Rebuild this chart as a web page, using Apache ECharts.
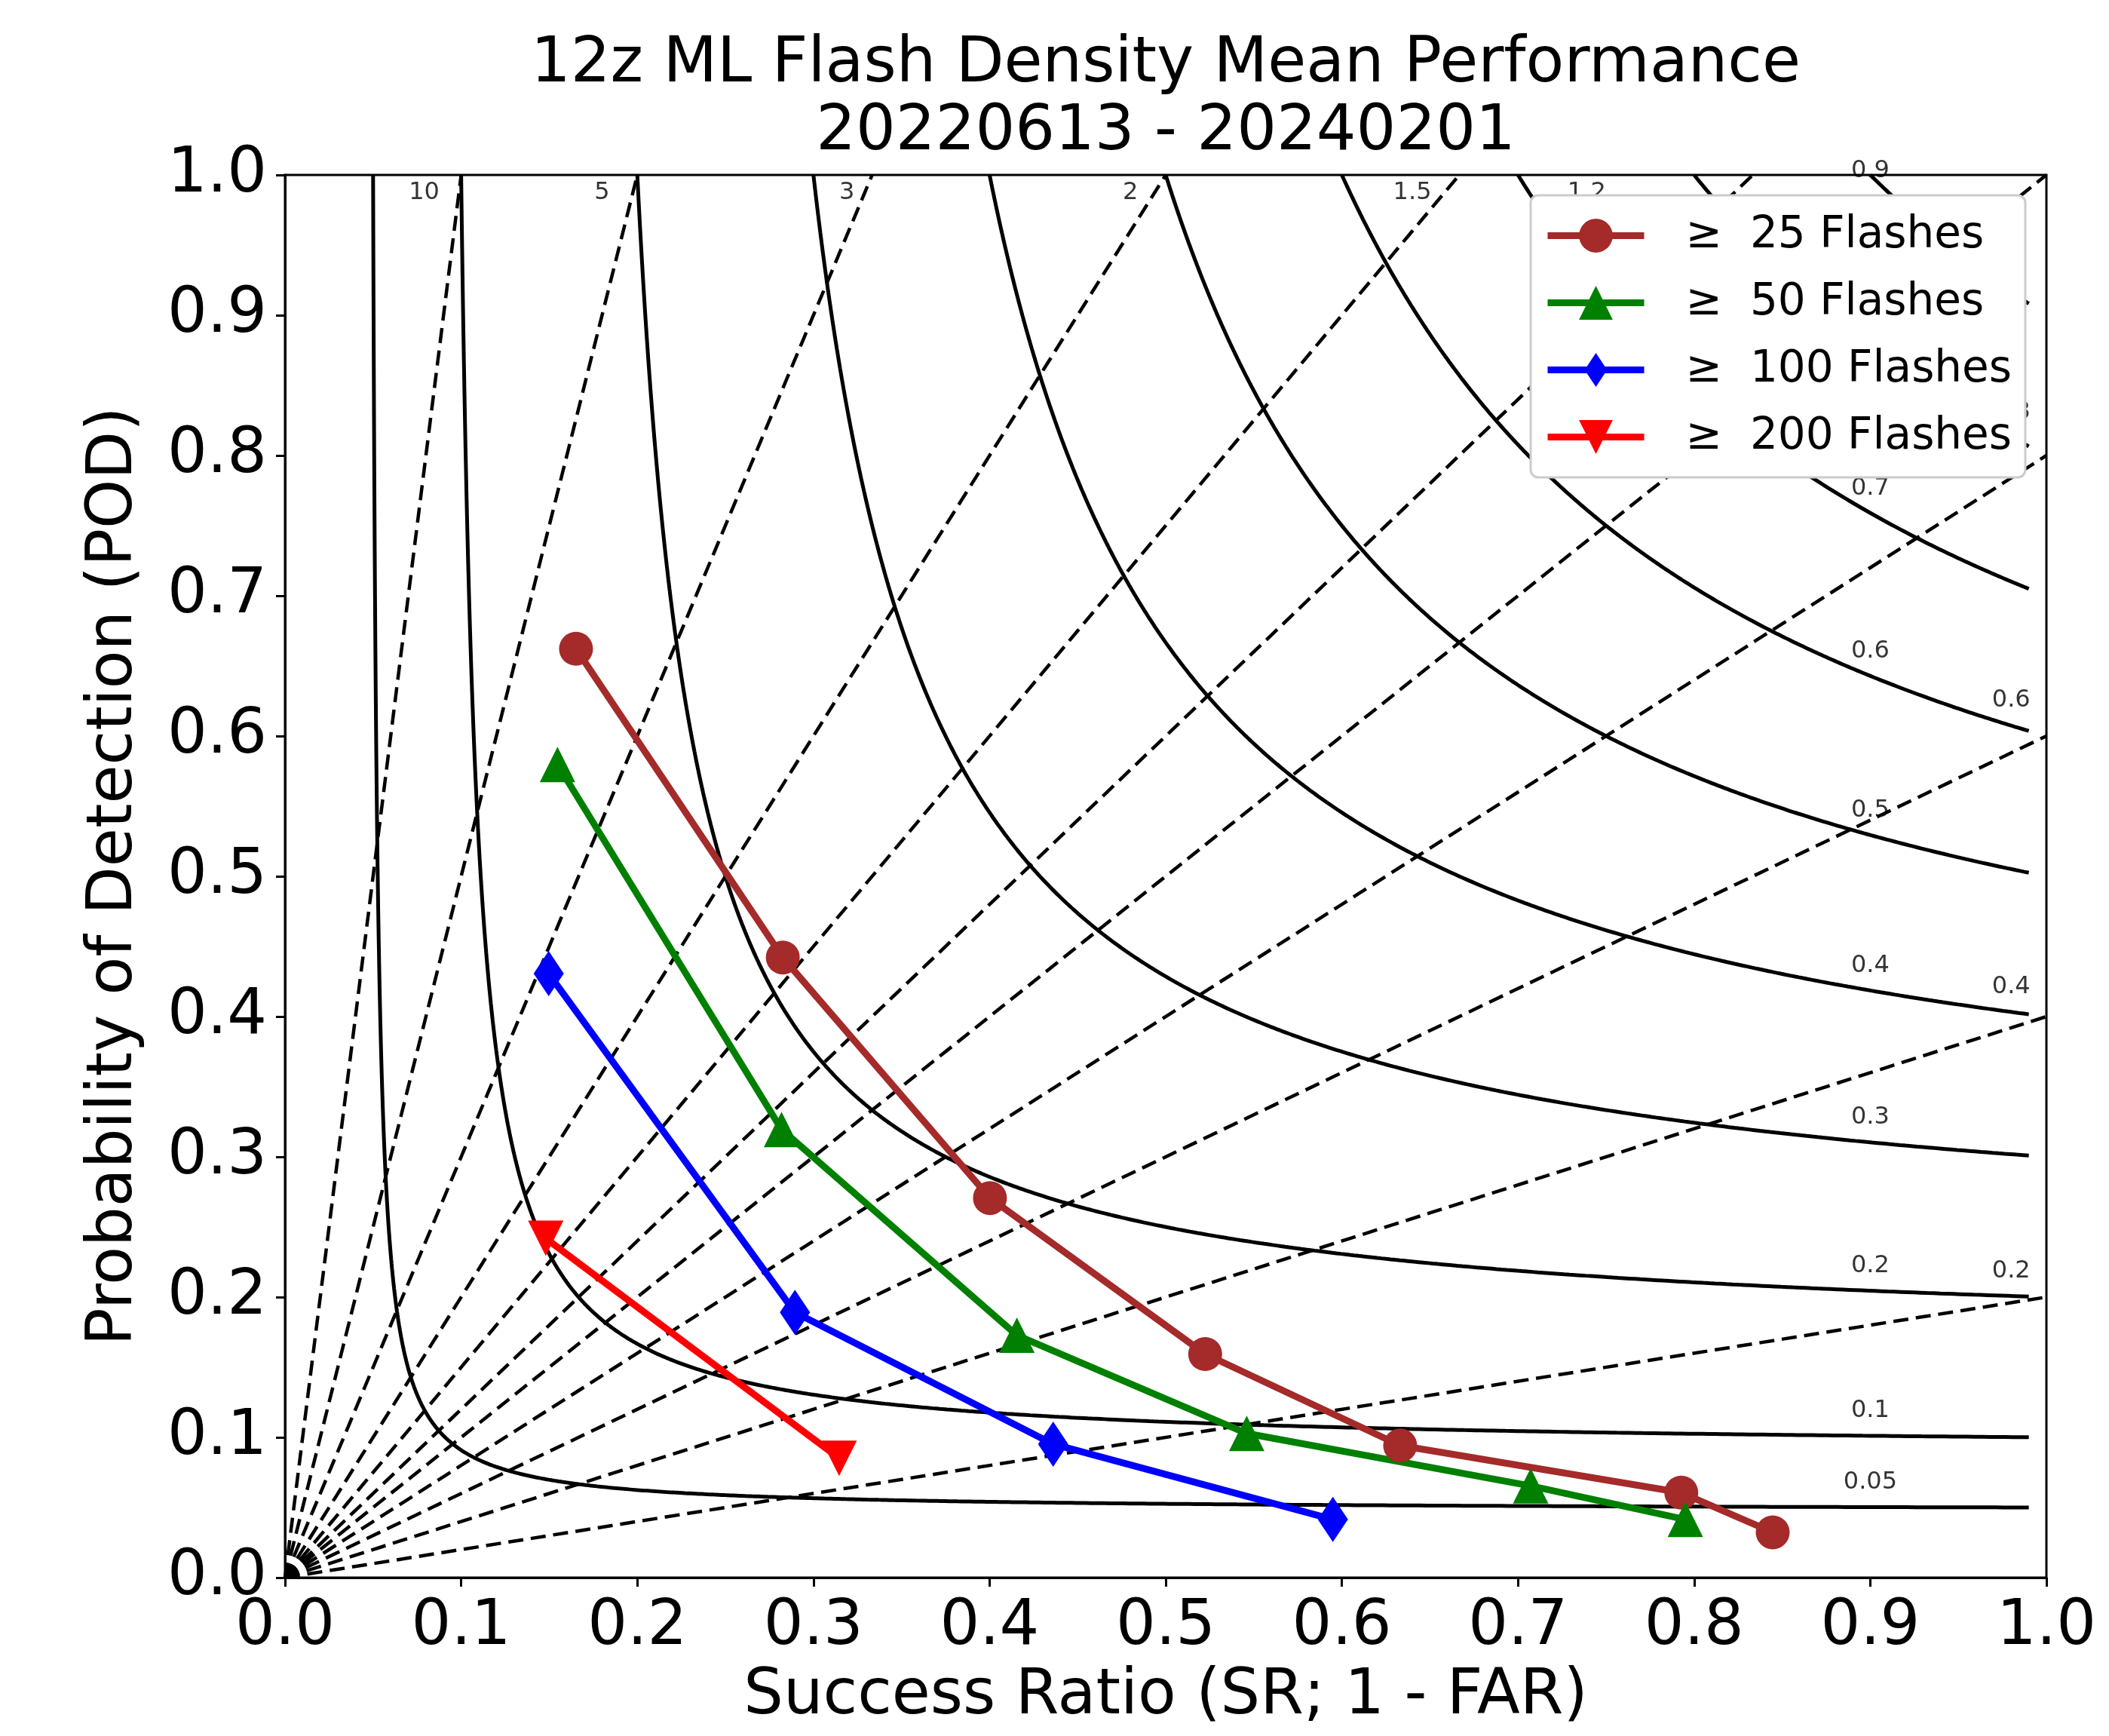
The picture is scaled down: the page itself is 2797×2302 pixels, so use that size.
<!DOCTYPE html>
<html><head><meta charset="utf-8">
<script src="https://cdn.jsdelivr.net/npm/echarts@6/dist/echarts.min.js"></script>
<style>html,body{margin:0;padding:0;background:#fff}#chart{width:2797px;height:2302px}</style>
</head><body><div id="chart"></div>
<script>
// ---- data ----
const seriesNames = ['\u2265  25 Flashes', '\u2265  50 Flashes', '\u2265  100 Flashes', '\u2265  200 Flashes'];
const sr25  = [0.1652, 0.2826, 0.4002, 0.5224, 0.6331, 0.7927, 0.8446];
const pod25 = [0.6622, 0.4421, 0.2706, 0.1594, 0.0942, 0.0606, 0.0323];
const sr50  = [0.1547, 0.2819, 0.4155, 0.5460, 0.7072, 0.7950];
const pod50 = [0.5797, 0.3195, 0.1728, 0.1028, 0.0654, 0.0415];
const sr100  = [0.1497, 0.2895, 0.4361, 0.5949];
const pod100 = [0.4306, 0.1891, 0.0952, 0.0415];
const sr200  = [0.1480, 0.3146];
const pod200 = [0.2419, 0.0851];
// reference contour levels
const csiLevels  = [0.05, 0.1, 0.2, 0.3, 0.4, 0.5, 0.6, 0.7, 0.8, 0.9];
const csiRightLabelLevels = [0.2, 0.4, 0.6, 0.8];
const biasLevels = [0.2, 0.4, 0.6, 0.8, 1, 1.2, 1.5, 2, 3, 5, 10];
const biasLabelText = ['10', '5', '3', '2', '1.5', '1.2'];
const biasLabelSR   = [0.079, 0.180, 0.319, 0.480, 0.640, 0.739];
const titleLines = ['12z ML Flash Density Mean Performance', '20220613 - 20240201'];
const xName = 'Success Ratio (SR; 1 - FAR)';
const yName = 'Probability of Detection (POD)';

// ---- helpers ----
const FONT = '"DejaVu Sans", "Liberation Sans", sans-serif';
function zip(a, b) { return a.map((v, i) => [v, b[i]]); }
function csiPOD(c, sr) { return 1 / (1 / c - 1 / sr + 1); }
function csiCurve(c) {
  const pts = [], N = 600, end = 0.99;
  for (let k = 0; k <= N; k++) {
    const sr = c + (end - c) * Math.pow(k / N, 3);
    pts.push([sr, Math.min(1, csiPOD(c, sr))]);
  }
  return pts;
}
function biasLine(b) { return b >= 1 ? [[0, 0], [1 / b, 1]] : [[0, 0], [1, b]]; }

const thinDiamond = 'path://M-1,-1 M1,1 M0,-1 L0.667,0 L0,1 L-0.667,0 Z';
const downTri = 'path://M-1,-1 L1,-1 L0,1 Z';

const series = [];
csiLevels.forEach(c => series.push({
  type: 'line', data: csiCurve(c), showSymbol: false, silent: true, z: 1,
  lineStyle: { color: '#000', width: 5 }, animation: false
}));
biasLevels.forEach(b => series.push({
  type: 'line', data: biasLine(b), showSymbol: false, silent: true, z: 1,
  lineStyle: { color: '#000', width: 4.5, type: [20, 10] }, animation: false
}));
const labelData = [];
csiLevels.forEach(c => labelData.push({ name: String(c), value: [0.9, Math.min(0.985, csiPOD(c, 0.9))] }));
csiRightLabelLevels.forEach(c => labelData.push({ name: String(c), value: [0.98, csiPOD(c, 0.98)] }));
const biasLabelData = biasLabelText.map((t, i) => ({ name: t, value: [biasLabelSR[i], 0.9875] }));
series.push({
  type: 'scatter', data: labelData, symbolSize: 1, silent: true, z: 2,
  itemStyle: { color: 'transparent' },
  label: { show: true, formatter: '{b}', position: 'inside', offset: [0, -33], fontSize: 32, fontFamily: FONT, color: '#000' }
});
series.push({
  type: 'scatter', data: biasLabelData, symbolSize: 1, silent: true, z: 2,
  itemStyle: { color: 'transparent' },
  label: { show: true, formatter: '{b}', position: 'inside', offset: [0, 0], fontSize: 32, fontFamily: FONT, color: '#000' }
});
const dataSets = [
  [sr25, pod25, '#a52a2a', 'circle', 45],
  [sr50, pod50, '#008000', 'triangle', 47],
  [sr100, pod100, '#0000ff', thinDiamond, 60],
  [sr200, pod200, '#ff0000', downTri, 47]
];
dataSets.forEach((d, i) => series.push({
  type: 'line', name: seriesNames[i], data: zip(d[0], d[1]), z: 3,
  symbol: d[3], symbolSize: d[4], showAllSymbol: true,
  lineStyle: { color: d[2], width: 9 }, itemStyle: { color: d[2] },
  animation: false
}));

const axisCommon = {
  type: 'value', min: 0, max: 1, interval: 0.1,
  axisLine: { show: true, lineStyle: { color: '#000', width: 3 } },
  axisTick: { show: true, inside: false, length: 12, lineStyle: { color: '#000', width: 3 } },
  splitLine: { show: false },
  axisLabel: { fontSize: 83, fontFamily: FONT, color: '#000', interval: 0, showMinLabel: true, showMaxLabel: true,
    formatter: v => v.toFixed(1) }
};

const chart = echarts.init(document.getElementById('chart'), null, { renderer: 'canvas' });
chart.setOption({
  animation: false,
  backgroundColor: '#fff',
  grid: { left: 378, right: 83, top: 232, bottom: 210, show: true, borderColor: '#000', borderWidth: 3, backgroundColor: 'transparent' },
  xAxis: Object.assign({}, axisCommon, { axisLabel: Object.assign({}, axisCommon.axisLabel, { margin: 25 }) }),
  yAxis: Object.assign({}, axisCommon, { axisLabel: Object.assign({}, axisCommon.axisLabel, { margin: 24 }) }),
  legend: {
    data: seriesNames, orient: 'vertical', left: 2030, top: 259, z: 6,
    padding: [24, 10, 10, 18], itemGap: 30, itemWidth: 128, itemHeight: 56,
    selectedMode: false, backgroundColor: 'transparent',
    lineStyle: { width: 9 },
    textStyle: { fontSize: 58, lineHeight: 59, fontFamily: FONT, color: '#000', padding: [0, 0, 0, 50] }
  },
  graphic: [
    { type: 'rect', z: 5, shape: { x: 2030, y: 259, width: 656, height: 374, r: 10 },
      style: { fill: '#fff', stroke: '#cccccc', lineWidth: 3 } },
    { type: 'text', x: 1546, y: 86, style: { text: titleLines[0], font: '83px ' + FONT, fill: '#000', align: 'center', verticalAlign: 'middle', textAlign: 'center', textVerticalAlign: 'middle' } },
    { type: 'text', x: 1546, y: 176, style: { text: titleLines[1], font: '83px ' + FONT, fill: '#000', align: 'center', verticalAlign: 'middle', textAlign: 'center', textVerticalAlign: 'middle' } },
    { type: 'text', x: 1546, y: 2250, style: { text: xName, font: '83px ' + FONT, fill: '#000', align: 'center', verticalAlign: 'middle', textAlign: 'center', textVerticalAlign: 'middle' } },
    { type: 'text', x: 152, y: 1162, rotation: Math.PI / 2, style: { text: yName, font: '83px ' + FONT, fill: '#000', align: 'center', verticalAlign: 'middle', textAlign: 'center', textVerticalAlign: 'middle' } }
  ],
  series: series
});
</script></body></html>
